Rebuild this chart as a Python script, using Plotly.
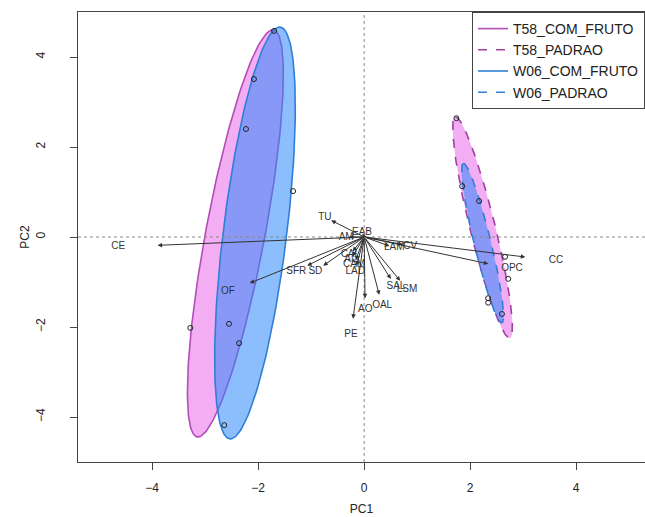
import numpy as np
import plotly.graph_objects as go

# ---------------- data ----------------
# PCA scores (individuals)
score_group = ["T58_COM_FRUTO", "W06_COM_FRUTO", "T58_COM_FRUTO", "W06_COM_FRUTO",
               "T58_COM_FRUTO", "W06_COM_FRUTO", "W06_COM_FRUTO", "T58_COM_FRUTO",
               "T58_PADRAO", "W06_PADRAO", "W06_PADRAO", "T58_PADRAO",
               "T58_PADRAO", "W06_PADRAO", "T58_PADRAO", "W06_PADRAO"]
score_pc1 = [-1.70, -2.08, -2.23, -1.34, -3.28, -2.55, -2.36, -2.64,
             1.74, 1.85, 2.17, 2.66, 2.72, 2.34, 2.34, 2.60]
score_pc2 = [4.58, 3.51, 2.40, 1.02, -2.02, -1.93, -2.36, -4.18,
             2.64, 1.13, 0.80, -0.44, -0.93, -1.36, -1.46, -1.71]

# Variable loadings (label positions, scaled to the score space)
var_names = ["CE", "TU", "AM", "EAB", "LAM", "CV", "CC", "OPC", "SFR", "SD", "OF",
             "CAL", "AL", "CAM", "LAD", "SAL", "LSM", "OAL", "AO", "PE"]
var_pc1 = [-4.64, -0.74, -0.34, -0.04, 0.57, 0.87, 3.62, 2.79, -1.28, -0.92, -2.57,
           -0.26, -0.26, -0.19, -0.17, 0.60, 0.81, 0.34, 0.02, -0.25]
var_pc2 = [-0.22, 0.44, 0.00, 0.09, -0.24, -0.20, -0.53, -0.71, -0.76, -0.76, -1.22,
           -0.38, -0.51, -0.62, -0.76, -1.11, -1.16, -1.53, -1.62, -2.16]

# Concentration ellipses per group: centre, semi-axes, tilt (deg from vertical,
# positive = top leaning right)
ell_groups = ["T58_COM_FRUTO", "W06_COM_FRUTO", "T58_PADRAO", "W06_PADRAO"]
ell_cx = [-2.43, -2.06, 2.235, 2.235]
ell_cy = [0.08, 0.09, 0.21, -0.135]
ell_a = [4.58, 4.60, 2.51, 1.81]
ell_b = [0.56, 0.60, 0.24, 0.16]
ell_tilt = [9.0, 5.9, -11.8, -11.6]

line_col = {"T58_COM_FRUTO": "#B34DB8", "T58_PADRAO": "#A0409F",
            "W06_COM_FRUTO": "#2F7FD6", "W06_PADRAO": "#2F7FD6"}
fill_col = {"T58_COM_FRUTO": "rgba(238,135,238,0.68)", "T58_PADRAO": "rgba(238,135,238,0.68)",
            "W06_COM_FRUTO": "rgba(45,135,250,0.55)", "W06_PADRAO": "rgba(45,135,250,0.55)"}
dash_of = {"T58_COM_FRUTO": "solid", "T58_PADRAO": "dash",
           "W06_COM_FRUTO": "solid", "W06_PADRAO": "dash"}

ARROW_FRAC = 0.84  # arrows end slightly before the labels (as in biplot)

fig = go.Figure()

# ellipses
t = np.linspace(0, 2 * np.pi, 200)
for g, cx, cy, a, b, tl in zip(ell_groups, ell_cx, ell_cy, ell_a, ell_b, ell_tilt):
    th = np.deg2rad(tl)
    u = np.array([np.sin(th), np.cos(th)])
    v = np.array([np.cos(th), -np.sin(th)])
    xs = cx + a * np.cos(t) * u[0] + b * np.sin(t) * v[0]
    ys = cy + a * np.cos(t) * u[1] + b * np.sin(t) * v[1]
    fig.add_trace(go.Scatter(x=xs, y=ys, mode="lines", fill="toself",
                             fillcolor=fill_col[g],
                             line=dict(color=line_col[g], width=1.6, dash=dash_of[g]),
                             showlegend=False, hoverinfo="skip"))

# points
fig.add_trace(go.Scatter(x=score_pc1, y=score_pc2, mode="markers",
                         marker=dict(symbol="circle-open", size=5, color="#222",
                                     line=dict(width=1)),
                         showlegend=False))

# variable labels
fig.add_trace(go.Scatter(x=var_pc1, y=var_pc2, mode="text", text=var_names,
                         textfont=dict(size=10, color="#333",
                                       family="Liberation Sans, Arial"),
                         showlegend=False))

# legend entries
for g in ["T58_COM_FRUTO", "T58_PADRAO", "W06_COM_FRUTO", "W06_PADRAO"]:
    fig.add_trace(go.Scatter(x=[None], y=[None], mode="lines", name=g,
                             line=dict(color=line_col[g], width=1.6, dash=dash_of[g])))

# arrows
for x, y in zip(var_pc1, var_pc2):
    fig.add_annotation(x=x * ARROW_FRAC, y=y * ARROW_FRAC, ax=0, ay=0,
                       xref="x", yref="y", axref="x", ayref="y",
                       text="", showarrow=True, arrowhead=2, arrowsize=0.9,
                       arrowwidth=1, arrowcolor="#333")

# dotted reference lines
fig.add_shape(type="line", xref="x", yref="paper", x0=0, x1=0, y0=0, y1=1,
              line=dict(color="#888", width=1, dash="dot"), layer="above")
fig.add_shape(type="line", xref="paper", yref="y", x0=0, x1=1, y0=0, y1=0,
              line=dict(color="#888", width=1, dash="dot"), layer="above")

axis_common = dict(showgrid=False, zeroline=False, showline=True, mirror=True,
                   linecolor="#444", linewidth=1, ticks="outside", ticklen=7,
                   tickcolor="#444", tickfont=dict(size=12, color="#222"),
                   automargin=False)

fig.update_layout(
    width=645, height=517,
    margin=dict(l=78, r=0, t=12, b=55),
    paper_bgcolor="white", plot_bgcolor="white",
    font=dict(family="Liberation Sans, Arial", color="#222"),
    xaxis=dict(range=[-5.4, 5.3], tickvals=[-4, -2, 0, 2, 4],
               ticklabelstandoff=8,
               title=dict(text="PC1", font=dict(size=12), standoff=10),
               **axis_common),
    yaxis=dict(range=[-5, 5], tickvals=[-4, -2, 0, 2, 4], tickangle=-90,
               ticklabelstandoff=20,
               title=dict(text="PC2", font=dict(size=12), standoff=2),
               **axis_common),
    legend=dict(x=1, y=1, xanchor="right", yanchor="top",
                bgcolor="white", bordercolor="#444", borderwidth=1,
                font=dict(size=14, color="#222"), tracegroupgap=0,
                itemwidth=30),
)

fig.write_html("out.html", config={"displayModeBar": False},
               post_script="document.body.style.margin='0';document.body.style.overflow='hidden';")
